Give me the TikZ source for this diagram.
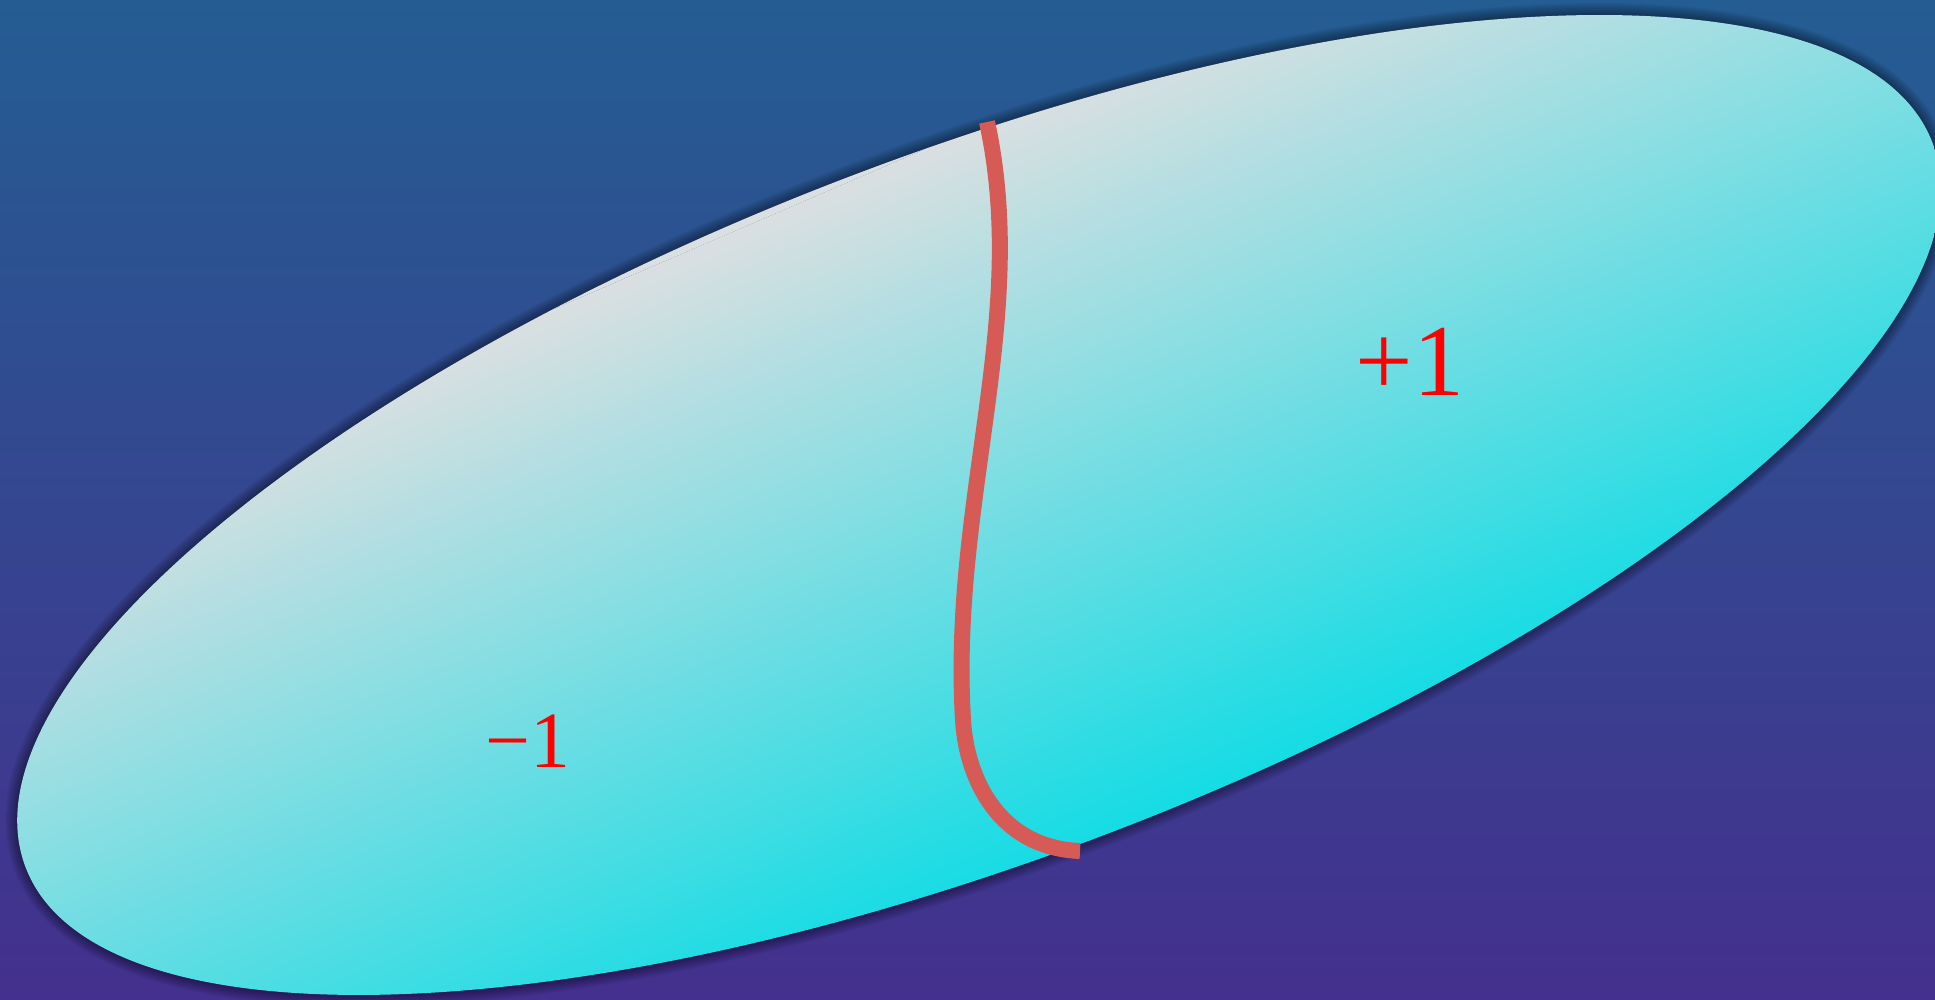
\documentclass[tikz,border=0pt]{standalone}
\usepackage{fontspec}
\setmainfont{Liberation Serif}
\usepackage{tikz}
\usetikzlibrary{calc}

\definecolor{bgtop}{RGB}{36,93,146}
\definecolor{bgbottom}{RGB}{68,48,142}
\definecolor{blobgray}{RGB}{218,223,225}
\definecolor{blobcyan}{RGB}{21,220,228}
\definecolor{cutred}{RGB}{214,90,86}

\tikzset{
  blob/.style={rotate around={20.8:(9.79,4.95)}},
  sign/.style={text=red, anchor=base, inner sep=0pt},
}

\begin{document}
\begin{tikzpicture}
    \useasboundingbox (0,0) rectangle (19.35,10);

    % Background
    \shade[top color=bgtop, bottom color=bgbottom] (0,0) rectangle (19.35,10);

    % Soft shadow round the blob
    \foreach \w in {1,...,12}
        \draw[black, opacity=0.035, line width=\w*0.2mm, blob] (9.79,4.95) ellipse [x radius=10.2, y radius=3.53];

    % Blob with its gradient
    \begin{scope}
        \clip[blob] (9.79,4.95) ellipse [x radius=10.2, y radius=3.53];
        \begin{scope}[transform canvas={shift={(9.30,8.53)}, rotate=23.3}]
            \fill[blobgray] (-25,0) rectangle (25,5);
            \fill[blobcyan] (-25,-7.04) rectangle (25,-15);
            \shade[top color=blobgray, bottom color=blobcyan] (-25,-7.04) rectangle (25,0);
        \end{scope}
    \end{scope}

    % Cut across the blob
    \draw[cutred, line width=1.6mm] (9.87,8.78) .. controls (10.30,6.80) and (9.50,5.00) .. (9.63,2.80)
        .. controls (9.665,2.20) and (10.00,1.52) .. (10.80,1.49);

    % Signs on either side
    \node[sign, font=\fontsize{29}{34}\selectfont] (plus) at (14.10,6.04) {+1};
    \node[sign, font=\fontsize{22.7}{27}\selectfont] (minus) at (5.28,2.32) {−1};
\end{tikzpicture}
\end{document}
